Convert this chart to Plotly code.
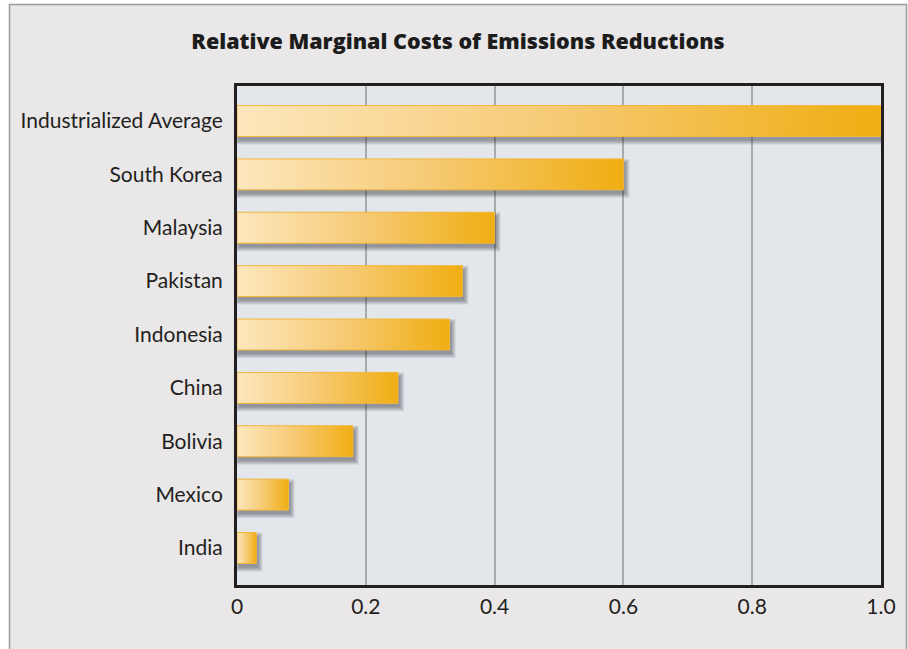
import plotly.graph_objects as go

# Data (listed bottom to top)
countries = ["India", "Mexico", "Bolivia", "China", "Indonesia",
             "Pakistan", "Malaysia", "South Korea", "Industrialized Average"]
costs = [0.03, 0.08, 0.18, 0.25, 0.33, 0.35, 0.40, 0.60, 1.00]
x_ticks = [0, 0.2, 0.4, 0.6, 0.8, 1.0]
x_tick_text = ["0", "0.2", "0.4", "0.6", "0.8", "1.0"]

W, H = 908, 649
M_L, M_R, M_T, M_B = 237, 27, 86, 64
plot_w = W - M_L - M_R
plot_h = H - M_T - M_B

y_range = [-0.693, len(countries) - 1 + 0.656]
ux = 1.0 / plot_w                                 # x data units per pixel
uy = (y_range[1] - y_range[0]) / plot_h           # y data units per pixel
half = 0.29                                       # half bar thickness

fig = go.Figure()

def rect(x0, x1, y0, y1):
    return [x0, x1, x1, x0, x0], [y0, y0, y1, y1, y0]

# soft drop shadows
for i, v in enumerate(costs):
    for e in [0, 1, 2, 3, 4]:
        xs, ys = rect(2 * ux - e * ux, v + 2 * ux + e * ux,
                      i - half - 4 * uy - e * uy, i + half - 4 * uy + e * uy)
        fig.add_trace(go.Scatter(x=xs, y=ys, mode="lines", fill="toself",
                                 fillcolor="rgba(40,42,48,0.10)",
                                 line=dict(width=0), hoverinfo="skip",
                                 showlegend=False))

# gradient bars
for i, v in enumerate(costs):
    xs, ys = rect(0, v, i - half, i + half)
    fig.add_trace(go.Scatter(
        x=xs, y=ys, mode="lines", fill="toself",
        fillgradient=dict(type="horizontal",
                          colorscale=[[0, "#fde7bd"], [0.5, "#f6ca74"], [1, "#f0ae12"]]),
        line=dict(width=1, color="#f2b63c"),
        hoverinfo="skip", showlegend=False, name=countries[i]))

fig.update_layout(
    width=W, height=H,
    margin=dict(l=M_L, r=M_R, t=M_T, b=M_B),
    paper_bgcolor="white",
    plot_bgcolor="#e3e6ea",
    title=dict(text="Relative Marginal Costs of Emissions Reductions",
               font=dict(family="Open Sans", size=21.5, weight=800, color="#1c1c1c"),
               xref="container", yref="container",
               x=458 / W, y=1 - 41 / H, xanchor="center", yanchor="middle"),
    xaxis=dict(range=[0, 1], tickvals=x_ticks, ticktext=x_tick_text,
               showgrid=True, gridcolor="#a8aaad", gridwidth=1.5,
               zeroline=False, showline=True, linecolor="#231f20",
               linewidth=3, mirror=True, ticks="",
               tickfont=dict(family="Lato", size=21, color="#231f20"),
               ticklabelstandoff=1, fixedrange=True),
    yaxis=dict(range=y_range, tickvals=list(range(len(countries))),
               ticktext=countries, showgrid=False, zeroline=False,
               showline=True, linecolor="#231f20", linewidth=3, mirror=True,
               ticks="", tickfont=dict(family="Lato", size=21, color="#231f20"),
               ticklabelstandoff=7, fixedrange=True),
    shapes=[
        # outer panel frame
        dict(type="rect", xref="paper", yref="paper",
             x0=(9.5 - M_L) / plot_w, x1=(906.5 - M_L) / plot_w,
             y0=(M_T + plot_h - 700) / plot_h, y1=(M_T + plot_h - 4.5) / plot_h,
             fillcolor="#e9e7e8", line=dict(color="#9a9a9a", width=1.5),
             layer="below"),
        # plotting area background
        dict(type="rect", xref="x domain", yref="y domain",
             x0=0, x1=1, y0=0, y1=1, fillcolor="#e3e6ea",
             line=dict(width=0), layer="below"),
    ],
)

fig.write_html("out.html")
